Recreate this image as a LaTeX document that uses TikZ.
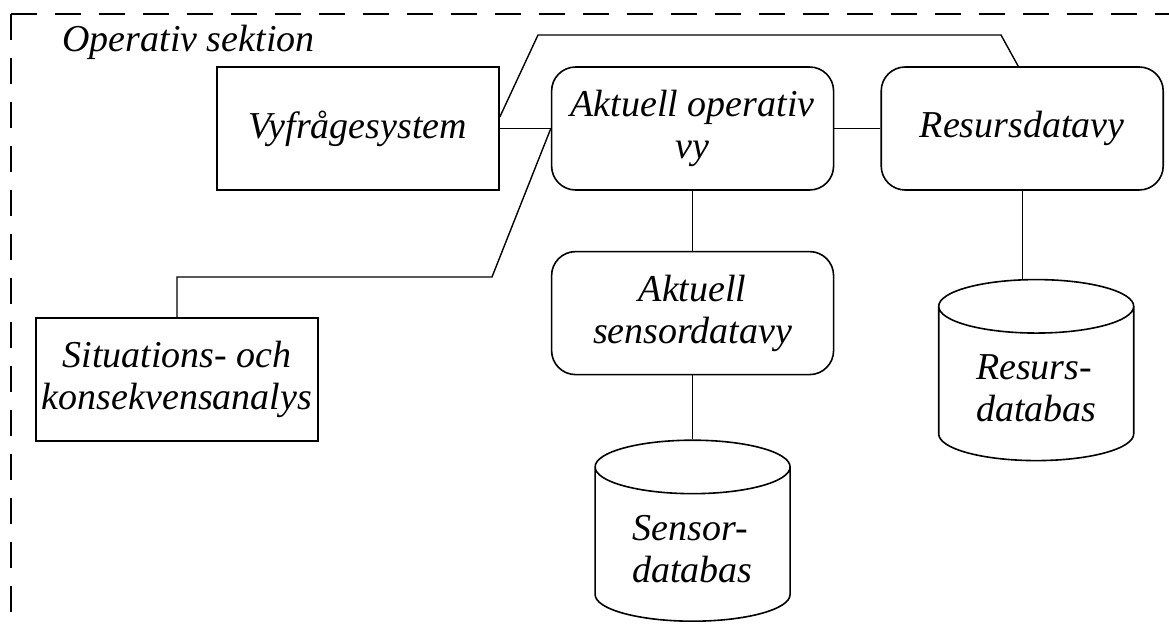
\documentclass[tikz,border=0pt]{standalone}
\usepackage{fontspec}
\setmainfont{Liberation Serif}
\usetikzlibrary{shapes.geometric, positioning, calc}
\tikzset{
    ruta/.style={rectangle, draw, line width=0.8pt, minimum width=141pt, minimum height=61.5pt, inner sep=1pt, align=center, font=\fontsize{19}{21}\selectfont\itshape},
    vy/.style={rectangle, rounded corners=12pt, draw, line width=0.8pt, minimum width=141pt, minimum height=61.5pt, inner sep=1pt, align=center, font=\fontsize{19}{21}\selectfont\itshape},
    databas/.style={cylinder, shape border rotate=90, aspect=0.4, draw, line width=0.8pt, minimum width=97.5pt, minimum height=90.5pt, align=left, font=\fontsize{19}{21}\selectfont\itshape},
    linje/.style={line width=0.7pt},
    ram/.style={line width=1pt, dash pattern=on 13pt off 9pt}
}

\begin{document}
\begin{tikzpicture}
        \useasboundingbox (0,0) rectangle (584.5pt,-315pt);

        % Ram runt sektionen
        \coordinate (ramhorn) at (5.5pt,-7pt);
        \draw[ram] (ramhorn) -- (592pt,-7pt);
        \draw[ram] (ramhorn) -- (5.5pt,-322pt);
        \node[anchor=west, inner sep=0pt, font=\fontsize{19}{21}\selectfont\itshape] (rubrik) at (31pt,-21pt) {Operativ sektion};

        % Vyer och system
        \node (fraga) [ruta] at (179pt,-64.25pt) {Vyfrågesystem};
        \node (aktop) [vy, right=25.5pt of fraga] {Aktuell operativ\\vy};
        \node (resurs) [vy, right=23pt of aktop] {Resursdatavy};
        \node (sensvy) [vy, below=30pt of aktop] {Aktuell\\sensordatavy};
        \node (situ) [ruta] at (88.5pt,-189.75pt) {Situations- och\\konsekvensanalys};

        % Databaser
        \node (sensdb) [databas, below=32pt of sensvy] {Sensor-\\databas};
        \node (resdb) [databas, below=44pt of resurs, xshift=7pt] {Resurs-\\databas};

        % Knutpunkter
        \coordinate (knack1) at (269pt,-17.5pt);
        \coordinate (knack2) at (500.5pt,-17.5pt);
        \coordinate (knack3) at (246pt,-138.5pt);

        % Linjer
        \draw [linje] (fraga) -- (aktop);
        \draw [linje] (aktop) -- (resurs);
        \draw [linje] (aktop.south) -- (aktop.south |- sensvy.north);
        \draw [linje] (sensvy.south) -- (sensvy.south |- sensdb.north);
        \draw [linje] (resurs.south) -- (resurs.south |- resdb.north);
        \draw [linje] ($(fraga.east)+(0,5.75pt)$) -- (knack1) -- (knack2) -- ($(resurs.north)+(-2pt,0)$);
        \draw [linje] (aktop.west) -- (knack3) -- (knack3 -| situ.north) -- (situ.north);

\end{tikzpicture}
\end{document}
